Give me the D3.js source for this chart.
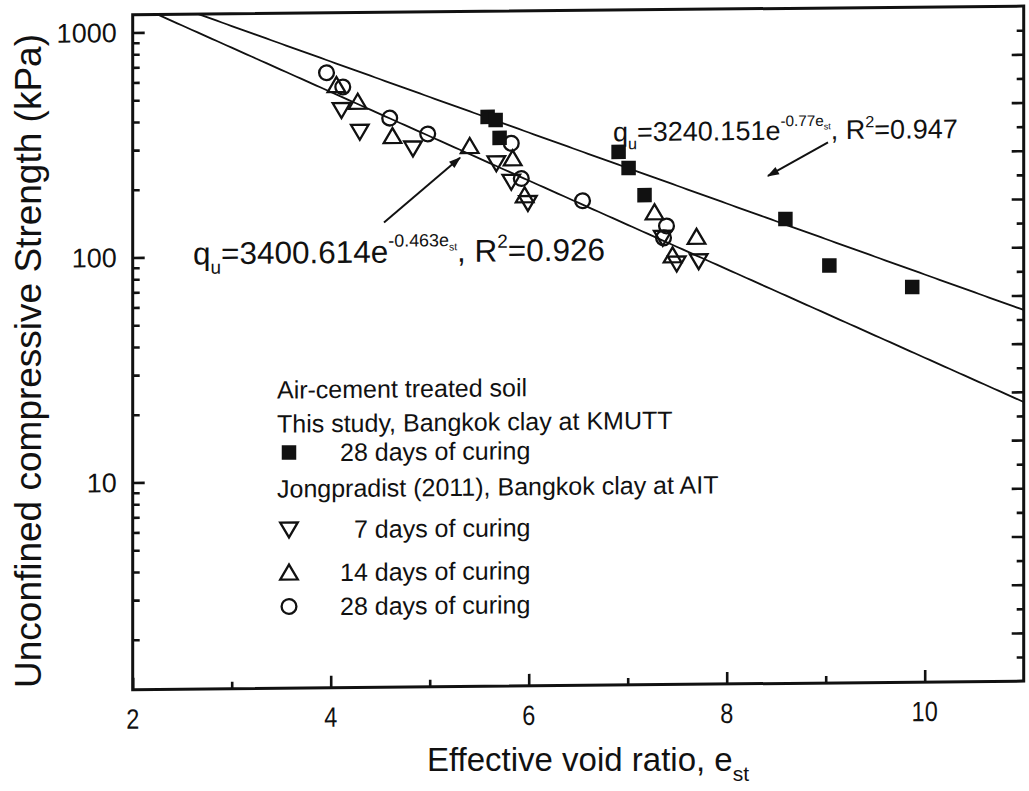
<!DOCTYPE html>
<html>
<head>
<meta charset="utf-8">
<script src="https://cdn.jsdelivr.net/npm/d3@7"></script>
<style>
  html, body { margin: 0; padding: 0; background: #fff; }
  svg { display: block; }
  text { font-family: "Liberation Sans", Arial, sans-serif; fill: #111; }
</style>
</head>
<body>
<svg id="chart" width="1029" height="791"></svg>
<script>
// Effective void ratio (x) vs unconfined compressive strength in kPa (y)
const kmutt28X = [5.585, 5.666, 5.706, 6.908, 7.009, 7.170, 8.593, 9.037, 9.874];
const kmutt28Y = [407, 394, 328, 281, 238, 180, 139, 86, 68.5];

const ait7X = [4.109, 4.294, 4.831, 5.673, 5.824, 5.992, 7.354, 7.495, 7.717];
const ait7Y = [443, 354, 297, 253, 209, 168, 116, 89, 91];

const ait14X = [4.058, 4.273, 4.624, 5.404, 5.838, 5.959, 7.271, 7.695, 7.453];
const ait14Y = [573, 482, 338, 303, 266, 182, 151, 117, 97];

const ait28X = [3.958, 4.122, 4.596, 4.980, 5.824, 5.925, 6.544, 7.392, 7.362];
const ait28Y = [650, 561, 406, 344, 310, 216, 171, 131, 116];

// exponential fits q = a * exp(-b * e)
const fitUpper = [3240.151, 0.373];
const fitLower = [3400.614, 0.463];

const xTickValues = [2, 4, 6, 8, 10];
const xMinorValues = [3, 5, 7, 9];
const yTickValues = [10, 100, 1000];

const legendLines = [
  "Air-cement treated soil",
  "This study, Bangkok clay at KMUTT",
  "28 days of curing",
  "Jongpradist (2011), Bangkok clay at AIT",
  "7 days of curing",
  "14 days of curing",
  "28 days of curing"
];

const svg = d3.select("#chart");
const margin = { left: 132.7, top: 14.7 };
const W = 891, H = 675;

const x = d3.scaleLinear().domain([2, 11]).range([0, W]);
const y = d3.scaleLog().domain([1.2, 1200]).range([H, 0]);

// the plotting frame sits slightly tilted on the page
const g = svg.append("g")
  .attr("transform", `translate(${margin.left},${margin.top}) skewY(-0.553)`);

const clipId = "plotclip";
g.append("clipPath").attr("id", clipId)
  .append("rect").attr("x", 0).attr("y", 0).attr("width", W).attr("height", H);

// ---- axes (ticks point inward) ----
const yMinor = [];
[1, 10, 100].forEach(d => { for (let k = 2; k <= 9; k++) { const v = d * k; if (v >= 1.2 && v <= 1200) yMinor.push(v); } });

const axisLeft = d3.axisRight(y).tickValues(yTickValues).tickSize(12).tickFormat("");
const axisLeftMinor = d3.axisRight(y).tickValues(yMinor).tickSize(7).tickFormat("");
const axisBottom = d3.axisTop(x).tickValues(xTickValues).tickSize(12).tickFormat("");
const axisBottomMinor = d3.axisTop(x).tickValues(xMinorValues).tickSize(7).tickFormat("");

// right side: evenly spaced mirror ticks
const yr = d3.scaleLinear().domain([14, 0]).range([H, 0]);
const axisRightMajor = d3.axisLeft(yr).tickValues(d3.range(1, 14)).tickSize(12).tickFormat("");
const axisRightMinor = d3.axisLeft(yr).tickValues(d3.range(0.5, 14, 1)).tickSize(7).tickFormat("");

function styleAxis(sel) {
  sel.select(".domain").remove();
  sel.selectAll(".tick line").attr("stroke", "#111").attr("stroke-width", 2.6);
}
g.append("g").call(axisLeft).call(styleAxis);
g.append("g").call(axisLeftMinor).call(styleAxis);
g.append("g").attr("transform", `translate(0,${H})`).call(axisBottom).call(styleAxis);
g.append("g").attr("transform", `translate(0,${H})`).call(axisBottomMinor).call(styleAxis);
g.append("g").attr("transform", `translate(${W},0)`).call(axisRightMajor).call(styleAxis);
g.append("g").attr("transform", `translate(${W},0)`).call(axisRightMinor).call(styleAxis);

g.append("rect").attr("x", 0).attr("y", 0).attr("width", W).attr("height", H)
  .attr("fill", "none").attr("stroke", "#111").attr("stroke-width", 3);

// tick labels
g.selectAll(".ylab").data(yTickValues).join("text")
  .attr("x", -16).attr("y", d => y(d) + 9.5)
  .attr("text-anchor", "end").attr("font-size", 27).text(d => d);
g.selectAll(".xlab").data(xTickValues).join("text")
  .attr("x", 0).attr("y", H + 39)
  .attr("text-anchor", "middle").attr("font-size", 28)
  .attr("transform", d => `translate(${x(d)},0) scale(0.84,1)`)
  .text(d => d);

// ---- fit lines ----
const plot = g.append("g").attr("clip-path", `url(#${clipId})`);
const eGrid = d3.range(2, 11.001, 0.05);
function fitPath(f) {
  return d3.line().x(e => x(e)).y(e => y(f[0] * Math.exp(-f[1] * e)))(eGrid);
}
plot.append("path").attr("d", fitPath(fitUpper)).attr("fill", "none").attr("stroke", "#111").attr("stroke-width", 1.8);
plot.append("path").attr("d", fitPath(fitLower)).attr("fill", "none").attr("stroke", "#111").attr("stroke-width", 1.8);

// ---- markers ----
const sq = 14.5, tri = 8.8, cr = 7.4;
function downTri(cx, cy) { return `M${cx - tri},${cy - tri * 0.8}L${cx + tri},${cy - tri * 0.8}L${cx},${cy + tri * 0.9}Z`; }
function upTri(cx, cy) { return `M${cx - tri},${cy + tri * 0.8}L${cx + tri},${cy + tri * 0.8}L${cx},${cy - tri * 0.9}Z`; }

const zip = (xs, ys) => xs.map((v, i) => [v, ys[i]]);

plot.selectAll(".d7").data(zip(ait7X, ait7Y)).join("path")
  .attr("d", d => downTri(x(d[0]), y(d[1])))
  .attr("fill", "none").attr("stroke", "#111").attr("stroke-width", 2.3);
plot.selectAll(".d14").data(zip(ait14X, ait14Y)).join("path")
  .attr("d", d => upTri(x(d[0]), y(d[1])))
  .attr("fill", "none").attr("stroke", "#111").attr("stroke-width", 2.3);
plot.selectAll(".d28").data(zip(ait28X, ait28Y)).join("circle")
  .attr("cx", d => x(d[0])).attr("cy", d => y(d[1])).attr("r", cr)
  .attr("fill", "none").attr("stroke", "#111").attr("stroke-width", 2.3);
plot.selectAll(".k28").data(zip(kmutt28X, kmutt28Y)).join("rect")
  .attr("x", d => x(d[0]) - sq / 2).attr("y", d => y(d[1]) - sq / 2)
  .attr("width", sq).attr("height", sq).attr("fill", "#111");

// ---- equations and arrows ----
const defs = svg.append("defs");
defs.append("marker").attr("id", "ahead").attr("viewBox", "0 0 10 10")
  .attr("refX", 9).attr("refY", 5).attr("markerWidth", 22).attr("markerHeight", 12)
  .attr("markerUnits", "userSpaceOnUse").attr("orient", "auto")
  .append("path").attr("d", "M0,1.5L10,5L0,8.5Z").attr("fill", "#111");

function pg(px, py) { return [px - margin.left, py - margin.top]; }

function equation(px, py, fs, a, b, r2) {
  const [lx, ly] = pg(px, py);
  const s = fs / 30;
  const t = g.append("text").attr("x", lx).attr("y", ly).attr("font-size", fs);
  t.append("tspan").text("q");
  t.append("tspan").attr("font-size", 18 * s).attr("dy", 9 * s).text("u");
  t.append("tspan").attr("dy", -9 * s).text("=" + a + "e");
  t.append("tspan").attr("font-size", 17 * s).attr("dy", -15 * s).text("-" + b + "e");
  t.append("tspan").attr("font-size", 10 * s).attr("dy", 4 * s).text("st");
  t.append("tspan").attr("dy", 11 * s).text(", R");
  t.append("tspan").attr("font-size", 18 * s).attr("dy", -13 * s).text("2");
  t.append("tspan").attr("dy", 13 * s).text("=" + r2);
}
equation(193, 265, 31.5, "3400.614", "0.463", "0.926");
equation(613, 146, 27, "3240.151", "0.77", "0.947");

function arrow(x1, y1, x2, y2) {
  const a = pg(x1, y1), b = pg(x2, y2);
  g.append("line").attr("x1", a[0]).attr("y1", a[1]).attr("x2", b[0]).attr("y2", b[1])
    .attr("stroke", "#111").attr("stroke-width", 2).attr("marker-end", "url(#ahead)");
}
arrow(384, 225, 460, 161);
arrow(828, 149, 768, 182);

// ---- legend ----
const legendRows = [
  { px: 277, py: 400, marker: null },
  { px: 277, py: 434, marker: null },
  { px: 340, py: 463, marker: "square" },
  { px: 277, py: 499, marker: null },
  { px: 354, py: 540, marker: "down" },
  { px: 340, py: 583, marker: "up" },
  { px: 340, py: 617, marker: "circle" }
];
legendRows.forEach((r, i) => {
  const [lx, ly] = pg(r.px, r.py);
  g.append("text").attr("x", lx).attr("y", ly).attr("font-size", 25).text(legendLines[i]);
  const mx = pg(289, 0)[0], my = ly - 9;
  if (r.marker === "square") {
    g.append("rect").attr("x", mx - sq / 2).attr("y", my - sq / 2).attr("width", sq).attr("height", sq).attr("fill", "#111");
  } else if (r.marker === "down") {
    g.append("path").attr("d", downTri(mx, my)).attr("fill", "none").attr("stroke", "#111").attr("stroke-width", 2.3);
  } else if (r.marker === "up") {
    g.append("path").attr("d", upTri(mx, my)).attr("fill", "none").attr("stroke", "#111").attr("stroke-width", 2.3);
  } else if (r.marker === "circle") {
    g.append("circle").attr("cx", mx).attr("cy", my).attr("r", cr).attr("fill", "none").attr("stroke", "#111").attr("stroke-width", 2.3);
  }
});

// ---- axis titles ----
const xt = svg.append("text").attr("x", 588).attr("y", 771).attr("text-anchor", "middle").attr("font-size", 33);
xt.append("tspan").text("Effective void ratio, e");
xt.append("tspan").attr("font-size", 21).attr("dy", 10).text("st");

svg.append("text")
  .attr("transform", "translate(41,361) rotate(-90)")
  .attr("text-anchor", "middle").attr("font-size", 37)
  .text("Unconfined compressive Strength (kPa)");
</script>
</body>
</html>
